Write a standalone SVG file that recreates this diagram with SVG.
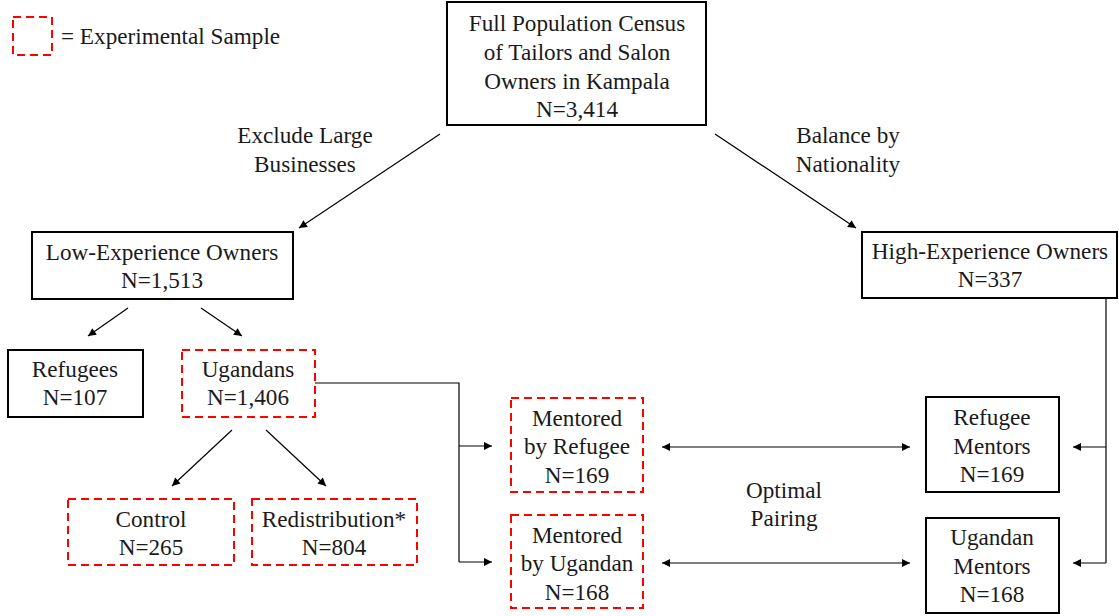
<svg xmlns="http://www.w3.org/2000/svg" width="1119" height="616" viewBox="0 0 1119 616">
<defs>
<marker id="ah" viewBox="0 0 10 10" refX="10" refY="5" markerWidth="10" markerHeight="8" markerUnits="userSpaceOnUse" orient="auto-start-reverse">
<path d="M0,0 L10,5 L0,10 z" fill="#000"/>
</marker>
</defs>
<style>
text{font-family:"Liberation Serif","Times New Roman",serif;font-size:23.2px;fill:#1a1a1a;text-anchor:middle}
.box{fill:#fff;stroke:#000;stroke-width:2}
.exp{fill:#fff;stroke:#ff0000;stroke-width:2;stroke-dasharray:8,5}
.con{fill:none;stroke:#000;stroke-width:1.2}
.arr{fill:none;stroke:#000;stroke-width:1.2;marker-end:url(#ah)}
.darr{fill:none;stroke:#000;stroke-width:1.2;marker-end:url(#ah);marker-start:url(#ah)}
</style>
<rect fill="#fff" x="0" y="0" width="1119" height="616"/>
<g id="legend">
<rect class="exp" x="13" y="17" width="39" height="38"/>
<text x="61" y="44" style="text-anchor:start">= Experimental Sample</text>
</g>
<g id="connectors">
<line class="arr" x1="440" y1="134" x2="299" y2="228"/>
<line class="arr" x1="715" y1="134" x2="856" y2="228"/>
<line class="arr" x1="128" y1="308" x2="88" y2="336"/>
<line class="arr" x1="201" y1="308" x2="242" y2="336"/>
<line class="arr" x1="232" y1="430" x2="172" y2="486"/>
<line class="arr" x1="266" y1="430" x2="326" y2="486"/>
<polyline class="con" points="315,383 459,383 459,562"/>
<line class="arr" x1="459" y1="446" x2="492" y2="446"/>
<line class="arr" x1="459" y1="562" x2="492" y2="562"/>
<line class="darr" x1="662" y1="447" x2="910" y2="447"/>
<line class="darr" x1="662" y1="563" x2="910" y2="563"/>
<polyline class="con" points="1106,298 1106,563"/>
<line class="arr" x1="1106" y1="447" x2="1073" y2="447"/>
<line class="arr" x1="1106" y1="563" x2="1073" y2="563"/>
<text x="305" y="143">Exclude Large</text>
<text x="305" y="172">Businesses</text>
<text x="848" y="143">Balance by</text>
<text x="848" y="172">Nationality</text>
<text x="784" y="498">Optimal</text>
<text x="784" y="526">Pairing</text>
</g>
<g id="census">
<rect class="box" x="447" y="2" width="259" height="123"/>
<text x="577" y="31">Full Population Census</text>
<text x="577" y="60">of Tailors and Salon</text>
<text x="577" y="89">Owners in Kampala</text>
<text x="577" y="117">N=3,414</text>
</g>
<g id="low-exp">
<rect class="box" x="32" y="232" width="261" height="67"/>
<text x="162" y="260">Low-Experience Owners</text>
<text x="162" y="288">N=1,513</text>
</g>
<g id="high-exp">
<rect class="box" x="862" y="232" width="255" height="66"/>
<text x="990" y="259">High-Experience Owners</text>
<text x="990" y="287">N=337</text>
</g>
<g id="refugees">
<rect class="box" x="8" y="350" width="135" height="67"/>
<text x="75" y="377">Refugees</text>
<text x="75" y="405">N=107</text>
</g>
<g id="ugandans">
<rect class="exp" x="182" y="350" width="133" height="67"/>
<text x="248" y="377">Ugandans</text>
<text x="248" y="405">N=1,406</text>
</g>
<g id="control">
<rect class="exp" x="68" y="499" width="166" height="66"/>
<text x="151" y="527">Control</text>
<text x="151" y="555">N=265</text>
</g>
<g id="redistribution">
<rect class="exp" x="252" y="499" width="165" height="66"/>
<text x="334" y="527">Redistribution*</text>
<text x="334" y="555">N=804</text>
</g>
<g id="mentored-refugee">
<rect class="exp" x="511" y="398" width="132" height="94"/>
<text x="577" y="426">Mentored</text>
<text x="577" y="454">by Refugee</text>
<text x="577" y="483">N=169</text>
</g>
<g id="mentored-ugandan">
<rect class="exp" x="511" y="515" width="132" height="93"/>
<text x="577" y="543">Mentored</text>
<text x="577" y="571">by Ugandan</text>
<text x="577" y="600">N=168</text>
</g>
<g id="refugee-mentors">
<rect class="box" x="926" y="397" width="133" height="95"/>
<text x="992" y="425">Refugee</text>
<text x="992" y="454">Mentors</text>
<text x="992" y="482">N=169</text>
</g>
<g id="ugandan-mentors">
<rect class="box" x="926" y="518" width="133" height="95"/>
<text x="992" y="545">Ugandan</text>
<text x="992" y="574">Mentors</text>
<text x="992" y="602">N=168</text>
</g>
</svg>
